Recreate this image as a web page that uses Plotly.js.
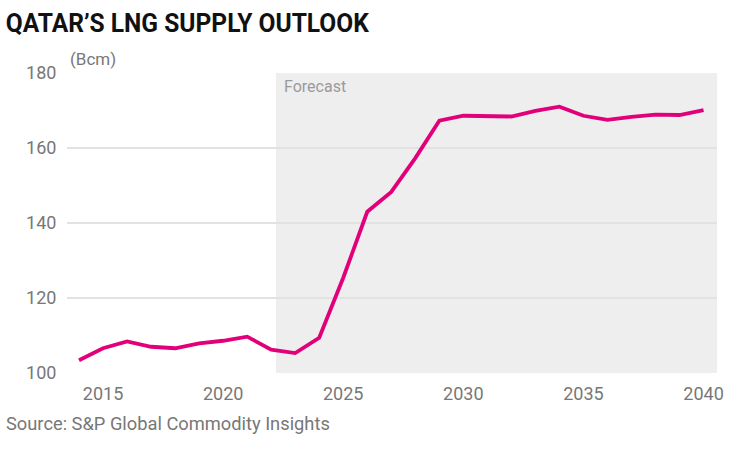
<!DOCTYPE html>
<html>
<head>
<meta charset="utf-8">
<script src="https://cdn.plot.ly/plotly-3.0.1.min.js"></script>
<style>
  html, body { margin: 0; padding: 0; background: #fff; }
  #chart { width: 730px; height: 451px; }
</style>
</head>
<body>
<div id="chart"></div>
<script>

var years = [2014, 2015, 2016, 2017, 2018, 2019, 2020, 2021, 2022, 2023,
             2024, 2025, 2026, 2027, 2028, 2029, 2030, 2031, 2032, 2033,
             2034, 2035, 2036, 2037, 2038, 2039, 2040]
var supply = [103.4, 106.6, 108.4, 107.0, 106.6, 107.9, 108.6, 109.7, 106.2, 105.3,
              109.4, 125.4, 143.0, 148.3, 157.3, 167.3, 168.6, 168.4, 168.4, 169.9,
              171.0, 168.6, 167.5, 168.3, 168.9, 168.8, 170.1]
var xTicks = [2015, 2020, 2025, 2030, 2035, 2040]
var yTicks = [100, 120, 140, 160, 180]
var forecastStart = 2022.2

var grey = '#777777'
var font = 'Roboto, "Open Sans", sans-serif'

var trace1 = {
  x: years,
  y: supply,
  mode: 'lines',
  type: 'scatter',
  line: {color: '#e2007a', width: 3.8},
  hoverinfo: 'x+y'
}

var layout = {
  width: 730,
  height: 451,
  margin: {l: 67, r: 13, t: 73, b: 77.5},
  paper_bgcolor: '#ffffff',
  plot_bgcolor: '#ffffff',
  showlegend: false,
  font: {family: font, color: grey, size: 17},
  title: {
    text: 'QATAR\u2019S LNG SUPPLY OUTLOOK',
    font: {family: font, size: 26, weight: 'bold', color: '#111111'},
    x: 0.008, xref: 'container', xanchor: 'left',
    y: 0.95, yref: 'container', yanchor: 'middle'
  },
  xaxis: {
    range: [2013.5, 2040.56],
    tickvals: xTicks,
    ticktext: xTicks.map(String),
    showgrid: false,
    zeroline: false,
    showline: false,
    ticks: 'outside',
    ticklen: 4,
    tickcolor: 'rgba(0,0,0,0)',
    tickfont: {family: font, size: 18, color: grey}
  },
  yaxis: {
    range: [100, 180],
    tickvals: yTicks,
    showgrid: true,
    gridcolor: '#e2e2e2',
    gridwidth: 1.5,
    zeroline: false,
    showline: false,
    ticks: 'outside',
    ticklen: 6,
    tickcolor: 'rgba(0,0,0,0)',
    tickfont: {family: font, size: 18, color: grey}
  },
  shapes: [{
    type: 'rect',
    xref: 'x', yref: 'y',
    x0: forecastStart, x1: 2040.56,
    y0: 100, y1: 180,
    fillcolor: '#eeeeee',
    line: {width: 0},
    layer: 'below'
  }],
  annotations: [
    {
      text: '(Bcm)', xref: 'paper', yref: 'paper',
      x: 0.0015, y: 1.0466, xanchor: 'left', yanchor: 'middle',
      showarrow: false, font: {family: font, size: 17, color: grey}
    },
    {
      text: 'Forecast', xref: 'x', yref: 'y',
      x: forecastStart, y: 176.3, xanchor: 'left', yanchor: 'middle', xshift: 6,
      showarrow: false, font: {family: font, size: 16, color: '#9a9a9a'}
    },
    {
      text: 'Source: S&amp;P Global Commodity Insights', xref: 'paper', yref: 'paper',
      x: -0.097, y: -0.168, xanchor: 'left', yanchor: 'middle',
      showarrow: false, font: {family: font, size: 18.3, color: grey}
    }
  ]
}

Plotly.newPlot('chart', [trace1], layout, {displayModeBar: false, staticPlot: true}).then(function(gd){
  // squeeze the title a bit, the original uses a condensed face
  var t = gd.querySelector('text.gtitle')
  if(t){
    t.setAttribute('textLength', 363)
    t.setAttribute('lengthAdjust', 'spacingAndGlyphs')
  }
})
</script>
</body>
</html>
